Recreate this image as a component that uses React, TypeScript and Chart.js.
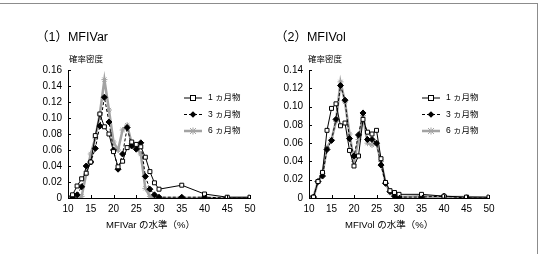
import { useEffect, useRef } from "react";
import { Chart, registerables } from "chart.js";

Chart.register(...registerables);

// Levels (%) at which the densities are evaluated
const levels = [10, 11, 12, 13, 14, 15, 16, 17, 18, 19, 20, 21, 22, 23, 24, 25, 26, 27, 28, 29, 30, 35, 40, 45, 50];

const seriesNames = ["1 ヵ月物", "3 ヵ月物", "6 ヵ月物"];

// (1) MFIVar densities
const var1m = [0, 0.004, 0.015, 0.024, 0.031, 0.045, 0.078, 0.105, 0.089, 0.08, 0.058, 0.039, 0.046, 0.063, 0.07, 0.067, 0.064, 0.051, 0.033, 0.019, 0.011, 0.016, 0.005, 0.001, 0.001];
const var3m = [0, 0, 0.004, 0.014, 0.04, 0.045, 0.062, 0.09, 0.126, 0.095, 0.06, 0.036, 0.055, 0.088, 0.065, 0.061, 0.069, 0.027, 0.011, 0.004, 0.001, 0.001, 0.001, 0, 0];
const var6m = [0, 0, 0, 0.002, 0.03, 0.055, 0.075, 0.105, 0.148, 0.11, 0.07, 0.06, 0.085, 0.091, 0.068, 0.064, 0.055, 0.012, 0.002, 0.001, 0, 0, 0, 0, 0];

// (2) MFIVol densities
const vol1m = [0, 0.001, 0.018, 0.028, 0.074, 0.098, 0.103, 0.079, 0.082, 0.052, 0.035, 0.046, 0.086, 0.072, 0.07, 0.074, 0.043, 0.017, 0.008, 0.006, 0.004, 0.004, 0.002, 0.001, 0.001];
const vol3m = [0, 0.001, 0.018, 0.024, 0.053, 0.063, 0.086, 0.123, 0.107, 0.065, 0.046, 0.069, 0.093, 0.064, 0.064, 0.06, 0.036, 0.016, 0.007, 0.002, 0.001, 0.001, 0.002, 0, 0];
const vol6m = [0, 0.001, 0.018, 0.027, 0.055, 0.064, 0.084, 0.127, 0.105, 0.07, 0.04, 0.064, 0.09, 0.06, 0.058, 0.06, 0.04, 0.017, 0.006, 0.003, 0.001, 0.002, 0.001, 0.001, 0];

const SANS = '"Liberation Sans", Arial, "Noto Sans CJK JP", sans-serif';
const GRAY = "#a3a3a3";

type MarkerKind = "square" | "diamond" | "star";

const seriesStyles = [
  { color: "#000", width: 1, dash: [] as number[], marker: "square" as MarkerKind, pointStyle: "rect", radius: 2.8, fill: "#fff" },
  { color: "#000", width: 1, dash: [3, 2], marker: "diamond" as MarkerKind, pointStyle: "rectRot", radius: 3, fill: "#000" },
  { color: GRAY, width: 2.5, dash: [] as number[], marker: "star" as MarkerKind, pointStyle: "star", radius: 3, fill: GRAY },
];

function drawMarker(ctx: CanvasRenderingContext2D, kind: MarkerKind, x: number, y: number, color: string, fill: string) {
  ctx.save();
  ctx.setLineDash([]);
  ctx.lineWidth = 1;
  ctx.strokeStyle = color;
  ctx.fillStyle = fill;
  if (kind === "square") {
    ctx.fillRect(x - 2.5, y - 2.5, 5, 5);
    ctx.strokeRect(x - 2.5, y - 2.5, 5, 5);
  } else if (kind === "diamond") {
    ctx.beginPath();
    ctx.moveTo(x, y - 3.3);
    ctx.lineTo(x + 3.3, y);
    ctx.lineTo(x, y + 3.3);
    ctx.lineTo(x - 3.3, y);
    ctx.closePath();
    ctx.fill();
  } else {
    ctx.beginPath();
    ctx.moveTo(x - 3, y - 3);
    ctx.lineTo(x + 3, y + 3);
    ctx.moveTo(x - 3, y + 3);
    ctx.lineTo(x + 3, y - 3);
    ctx.moveTo(x, y - 3.5);
    ctx.lineTo(x, y + 3.5);
    ctx.stroke();
  }
  ctx.restore();
}

type PanelText = {
  title: string;
  titleX: number;
  unit: string;
  unitX: number;
  xTitle: string;
  xTitleX: number;
  legendLineX: number;
  legendTextX: number;
};

const panelTextPlugin = {
  id: "panelText",
  afterDraw(chart: any, _args: any, opts: PanelText) {
    const ctx: CanvasRenderingContext2D = chart.ctx;
    const area = chart.chartArea;
    ctx.save();

    // inward tick marks
    ctx.strokeStyle = "#000";
    ctx.lineWidth = 1;
    const ys = chart.scales.y;
    ys.ticks.forEach((t: any) => {
      const py = Math.round(ys.getPixelForValue(t.value)) + 0.5;
      ctx.beginPath();
      ctx.moveTo(area.left, py);
      ctx.lineTo(area.left + 3, py);
      ctx.stroke();
    });
    const xs = chart.scales.x;
    xs.ticks.forEach((t: any) => {
      const px = Math.round(xs.getPixelForValue(t.value)) + 0.5;
      ctx.beginPath();
      ctx.moveTo(px, area.bottom);
      ctx.lineTo(px, area.bottom - 3);
      ctx.stroke();
    });

    ctx.fillStyle = "#000";
    ctx.textAlign = "left";
    ctx.textBaseline = "middle";

    ctx.font = `12.5px ${SANS}`;
    ctx.fillText(opts.title, opts.titleX, 38);

    ctx.font = `8.5px ${SANS}`;
    ctx.fillText(opts.unit, opts.unitX, 60);

    ctx.font = `9.5px ${SANS}`;
    ctx.fillText(opts.xTitle, opts.xTitleX, 225);

    // legend
    const rows = [98, 114.5, 131];
    chart.data.datasets.forEach((ds: any, i: number) => {
      const st = seriesStyles[i];
      const y = rows[i];
      ctx.save();
      ctx.strokeStyle = st.color;
      ctx.lineWidth = st.width;
      ctx.setLineDash(st.dash);
      ctx.beginPath();
      ctx.moveTo(opts.legendLineX, y);
      ctx.lineTo(opts.legendLineX + 18, y);
      ctx.stroke();
      ctx.restore();
      drawMarker(ctx, st.marker, opts.legendLineX + 9, y, st.color, st.fill);
      ctx.font = `8.5px ${SANS}`;
      ctx.fillStyle = "#000";
      ctx.fillText(ds.label, opts.legendTextX, y);
    });

    ctx.restore();
  },
};

type PanelDef = {
  series: number[][];
  yMax: number;
  plotLeft: number;
  plotRight: number;
  text: PanelText;
};

const PLOT_TOP = 70;
const PLOT_BOTTOM = 198;
const CANVAS_W = 270;
const CANVAS_H = 254;

function buildConfig(p: PanelDef): any {
  return {
    type: "line",
    data: {
      datasets: p.series.map((values, i) => {
        const st = seriesStyles[i];
        return {
          label: seriesNames[i],
          data: levels.map((lv, j) => ({ x: lv, y: values[j] })),
          borderColor: st.color,
          borderWidth: st.width,
          borderDash: st.dash,
          pointStyle: st.pointStyle,
          pointRadius: st.radius,
          pointBorderColor: st.color,
          pointBackgroundColor: st.fill,
          pointBorderWidth: 1,
          tension: 0,
          fill: false,
        };
      }),
    },
    options: {
      responsive: false,
      animation: false,
      layout: {
        padding: { left: 0, top: PLOT_TOP, right: CANVAS_W - p.plotRight, bottom: 0 },
      },
      plugins: {
        legend: { display: false },
        title: { display: false },
        tooltip: { enabled: false },
        panelText: p.text,
      },
      scales: {
        x: {
          type: "linear",
          min: 10,
          max: 50,
          afterFit: (s: any) => {
            s.height = CANVAS_H - PLOT_BOTTOM;
          },
          ticks: {
            stepSize: 5,
            color: "#000",
            padding: 5,
            maxRotation: 0,
            font: { family: SANS, size: 10 },
          },
          grid: { display: true, drawOnChartArea: false, drawTicks: false },
          border: { display: true, color: "#000", width: 1 },
        },
        y: {
          type: "linear",
          min: 0,
          max: p.yMax,
          afterFit: (s: any) => {
            s.width = p.plotLeft;
          },
          ticks: {
            stepSize: 0.02,
            color: "#000",
            padding: 6,
            font: { family: SANS, size: 10 },
            callback: (v: number) => (Math.abs(v) < 1e-9 ? "0" : v.toFixed(2)),
          },
          grid: { display: true, drawOnChartArea: false, drawTicks: false },
          border: { display: true, color: "#000", width: 1 },
        },
      },
    },
    plugins: [panelTextPlugin],
  };
}

function Panel({ left, def }: { left: number; def: PanelDef }) {
  const ref = useRef<HTMLCanvasElement>(null);
  useEffect(() => {
    const chart = new Chart(ref.current as HTMLCanvasElement, buildConfig(def));
    return () => chart.destroy();
  }, [def]);
  return (
    <canvas
      ref={ref}
      width={CANVAS_W}
      height={CANVAS_H}
      style={{ position: "absolute", left, top: 0, width: CANVAS_W, height: CANVAS_H }}
    />
  );
}

const varPanel: PanelDef = {
  series: [var1m, var3m, var6m],
  yMax: 0.16,
  plotLeft: 68,
  plotRight: 250,
  text: {
    title: "（1）MFIVar",
    titleX: 36,
    unit: "確率密度",
    unitX: 69,
    xTitle: "MFIVar の水準（%）",
    xTitleX: 106,
    legendLineX: 184,
    legendTextX: 208,
  },
};

const volPanel: PanelDef = {
  series: [vol1m, vol3m, vol6m],
  yMax: 0.14,
  plotLeft: 39,
  plotRight: 219,
  text: {
    title: "（2）MFIVol",
    titleX: 5,
    unit: "確率密度",
    unitX: 38,
    xTitle: "MFIVol の水準（%）",
    xTitleX: 75,
    legendLineX: 152,
    legendTextX: 176,
  },
};

export default function App() {
  return (
    <div style={{ position: "fixed", left: 0, top: 0, width: 540, height: 254, background: "#fff", overflow: "hidden" }}>
      <div style={{ position: "absolute", left: 0, top: 3, width: 538, height: 1, background: "#8c8c8c" }} />
      <div style={{ position: "absolute", left: 537, top: 3, width: 1, height: 251, background: "#8c8c8c" }} />
      <Panel left={0} def={varPanel} />
      <Panel left={270} def={volPanel} />
    </div>
  );
}
